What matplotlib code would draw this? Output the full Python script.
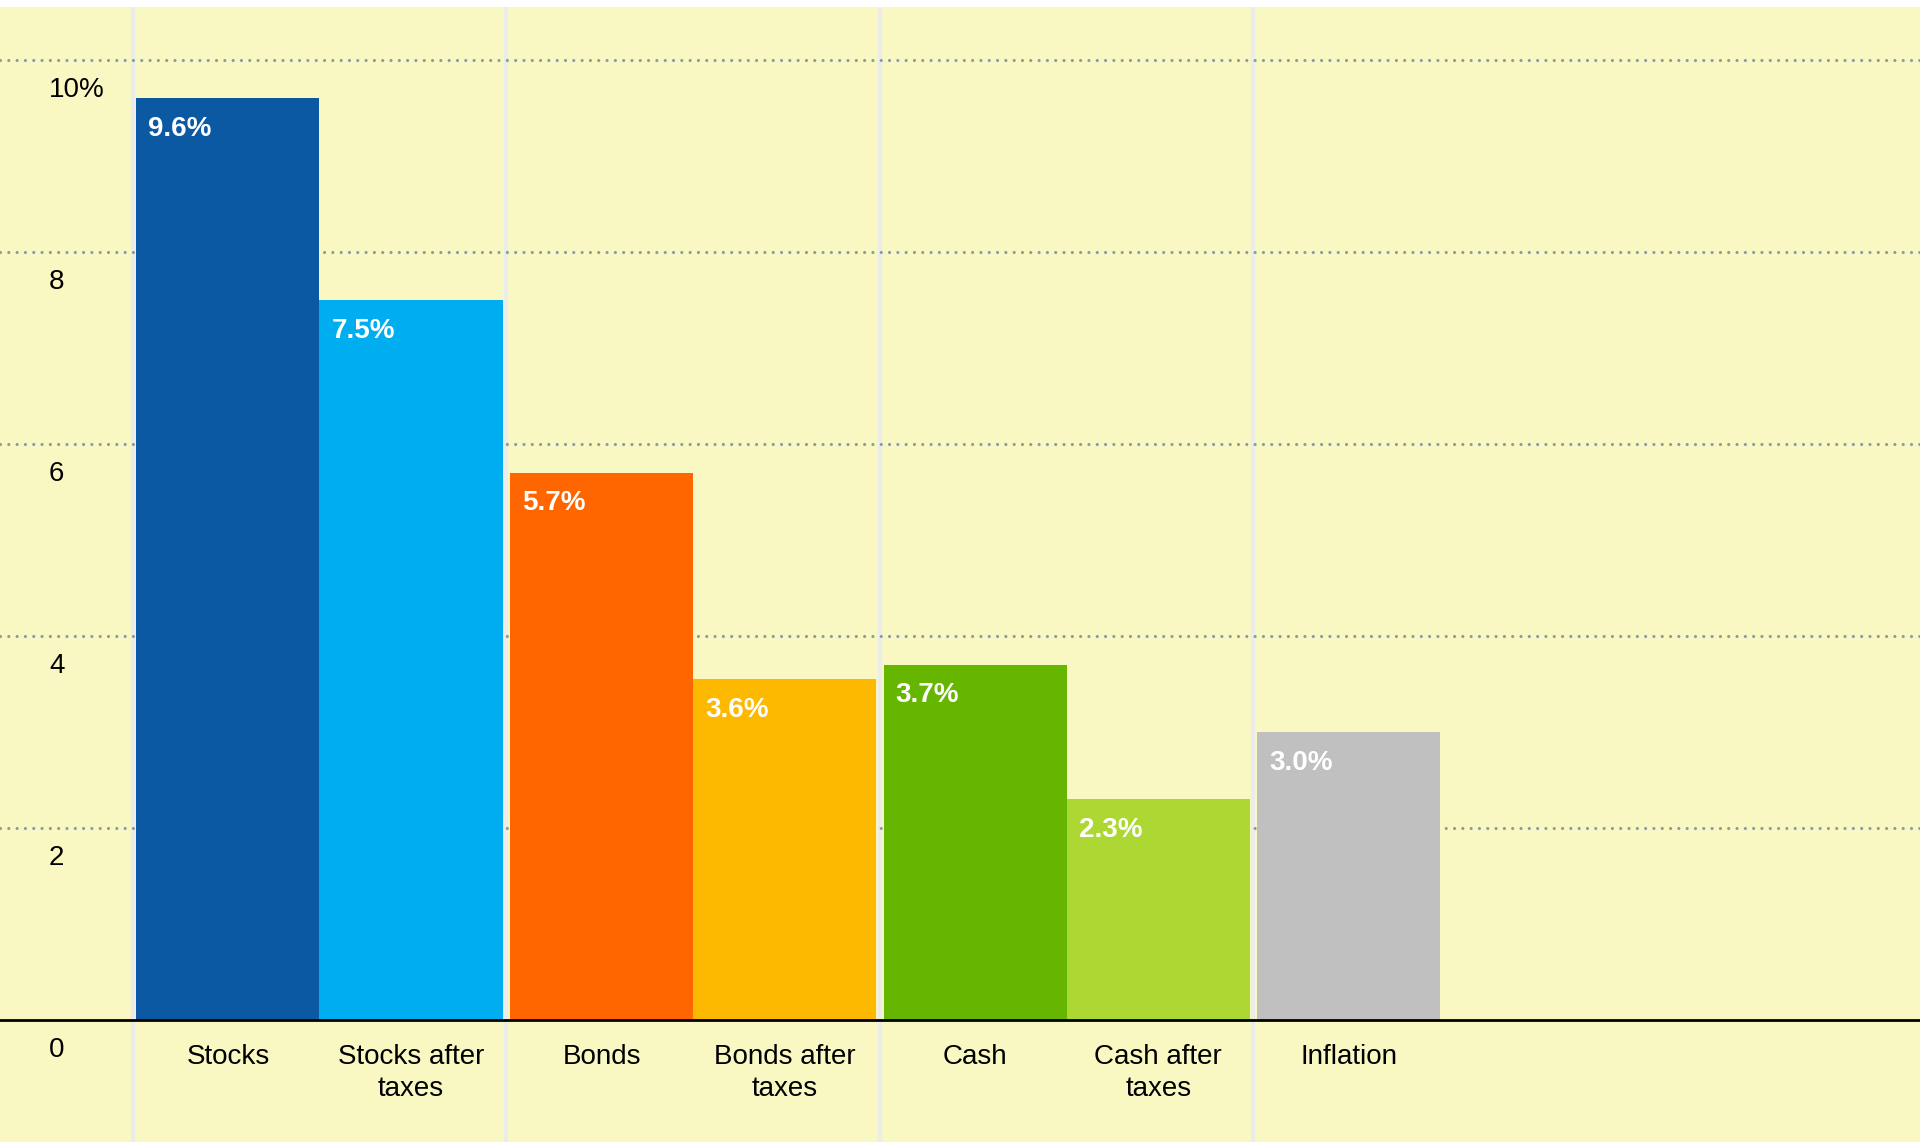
import numpy as np
import matplotlib
matplotlib.use('Agg')
import matplotlib.pyplot as plt
import matplotlib.transforms as mtransforms

plt.rcParams['font.family'] = ['Liberation Sans', 'DejaVu Sans']

# Data
categories = ['Stocks', 'Stocks after\ntaxes', 'Bonds', 'Bonds after\ntaxes',
              'Cash', 'Cash after\ntaxes', 'Inflation']
values = [9.6, 7.5, 5.7, 3.55, 3.7, 2.3, 3.0]
value_labels = ['9.6%', '7.5%', '5.7%', '3.6%', '3.7%', '2.3%', '3.0%']
bar_colors = ['#0B58A3', '#00AEEF', '#FF6600', '#FDB800',
              '#66B500', '#ADD833', '#C0C0C0']
y_ticks = [0, 2, 4, 6, 8, 10]
y_tick_labels = ['0', '2', '4', '6', '8', '10%']

bg = '#FAF8C2'
bar_w = 0.49

fig = plt.figure(figsize=(19.2, 11.42), dpi=100, facecolor='white')
ax = fig.add_axes([0, 0, 1, 1 - 7 / 1142])
ax.set_facecolor(bg)
for s in ax.spines.values():
    s.set_visible(False)
ax.set_xticks([])
ax.set_yticks([])
ax.set_xlim(-0.855, 4.284)
ax.set_ylim(-1.27, 10.55)

# bars come in pairs: (asset, after taxes); inflation is alone
xpos = []
for i in range(len(values)):
    group = i // 2
    side = -1 if i % 2 == 0 else 1
    xpos.append(group + side * bar_w / 2)
xpos = np.array(xpos)

# light vertical group separators
for g in range(4):
    ax.axvline(g - 0.5, color='#ECECEA', lw=3.1, zorder=1)

# dotted gridlines
for t in y_ticks[1:]:
    ax.axhline(t, color='#8A9BA6', lw=2.3, linestyle=(0, (0.001, 2.6)),
               dash_capstyle='round', zorder=2)

ax.bar(xpos, values, width=bar_w, color=bar_colors, zorder=3, linewidth=0)

# baseline
ax.axhline(0, color='black', lw=2.0, zorder=4)

# value labels inside the bars
for x, v, lab in zip(xpos, values, value_labels):
    ax.text(x - bar_w / 2 + 0.032, v - 0.32, lab, color='white',
            fontsize=20, fontweight='bold', ha='left', va='center', zorder=5)

# category labels
for x, cat in zip(xpos, categories):
    ax.text(x, -0.25, cat, ha='center', va='top', fontsize=20,
            linespacing=1.3, zorder=5)

# y tick labels, drawn below their gridlines
trans = mtransforms.blended_transform_factory(ax.transAxes, ax.transData)
for t, lab in zip(y_ticks, y_tick_labels):
    ax.text(49 / 1920, t - 0.31, lab, transform=trans, ha='left',
            va='center', fontsize=20, zorder=5)

fig.savefig('out.png', dpi=100, facecolor='white')
